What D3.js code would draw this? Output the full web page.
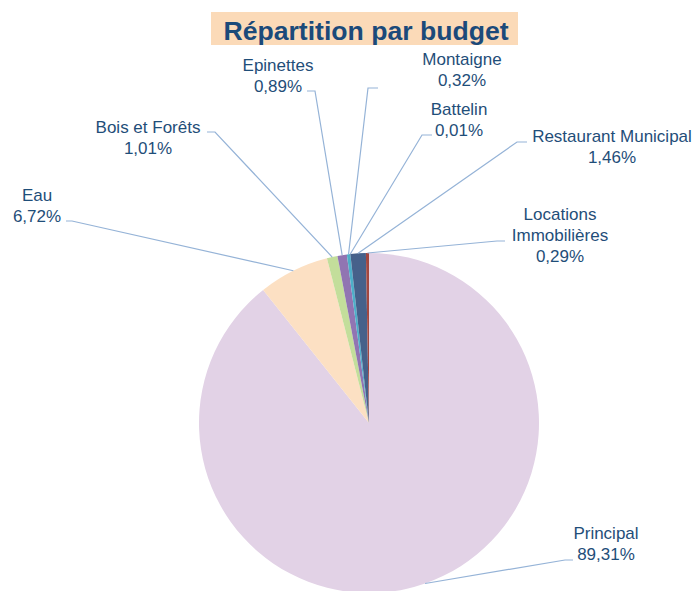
<!DOCTYPE html>
<html><head><meta charset="utf-8">
<script src="https://cdn.jsdelivr.net/npm/d3@7"></script>
<style>body{margin:0;background:#fff}svg{display:block}</style>
</head><body>
<script>
const categories = ["Principal","Eau","Bois et Forêts","Epinettes","Montaigne","Battelin","Restaurant Municipal","Locations Immobilières"];
const values = [89.31, 6.72, 1.01, 0.89, 0.32, 0.01, 1.46, 0.29];
const valueLabels = ["89,31%","6,72%","1,01%","0,89%","0,32%","0,01%","1,46%","0,29%"];
const colors = ["#E2D2E6","#FCE0C3","#C3DE9B","#9175B2","#4DAFC8","#2E75B6","#46618A","#A3473F"];
const title = "Répartition par budget";

// label layout: text lines, text centre x, first baseline y, stub start/end
const labelLayout = [
  {lines:["Principal"], tx:606, ty:539, s0:[573,560], s1:[565,560]},
  {lines:["Eau"], tx:37, ty:201, s0:[66,221], s1:[72,221]},
  {lines:["Bois et Forêts"], tx:148, ty:133, s0:[207,132], s1:[215,132]},
  {lines:["Epinettes"], tx:278, ty:71, s0:[307,91], s1:[315,91]},
  {lines:["Montaigne"], tx:462, ty:65, s0:[378,88], s1:[368,88]},
  {lines:["Battelin"], tx:459, ty:115, s0:[432,135], s1:[422,135]},
  {lines:["Restaurant Municipal"], tx:612, ty:142, s0:[527,142], s1:[517,142]},
  {lines:["Locations","Immobilières"], tx:560, ty:220, s0:[505,241], s1:[497,241]}
];

const W=698,H=591, cx=369, cy=423, R=170;
const svg=d3.select("body").append("svg").attr("width",W).attr("height",H);

// title
const tg=svg.append("g");
tg.append("rect").attr("x",211).attr("y",12).attr("width",307).attr("height",33).attr("fill","#FBDAB8");
tg.append("text").attr("x",366).attr("y",40).attr("text-anchor","middle")
  .attr("font-family","'Liberation Sans', Arial, sans-serif").attr("font-weight","bold")
  .attr("font-size",26.6).attr("fill","#1B4A7A").text(title);

const data = categories.map((c,i)=>({name:c,value:values[i],label:valueLabels[i],color:colors[i],layout:labelLayout[i]}));
const pie=d3.pie().value(d=>d.value).sort(null).startAngle(0).endAngle(2*Math.PI);
const arcs=pie(data);
const arc=d3.arc().innerRadius(0).outerRadius(R);
const g=svg.append("g").attr("transform",`translate(${cx},${cy})`);
g.selectAll("path").data(arcs).join("path").attr("d",arc).attr("fill",d=>d.data.color);

// leader lines
const lg=svg.append("g");
arcs.forEach(a=>{
  const mid=(a.startAngle+a.endAngle)/2;
  const px=cx+R*Math.sin(mid), py=cy-R*Math.cos(mid);
  const L=a.data.layout;
  lg.append("polyline").attr("points",[[px,py],L.s1,L.s0].map(p=>p.join(",")).join(" "))
    .attr("fill","none").attr("stroke","#95B3D7").attr("stroke-width",1.2);
});

// labels
const tgl=svg.append("g").attr("font-family","'Liberation Sans', Arial, sans-serif").attr("font-size",17).attr("fill","#1F4E79").attr("text-anchor","middle");
arcs.forEach(a=>{
  const L=a.data.layout;
  const lines=[...L.lines,a.data.label];
  const t=tgl.append("text").attr("x",L.tx).attr("y",L.ty);
  lines.forEach((s,i)=>t.append("tspan").attr("x",L.tx).attr("dy",i?21:0).text(s));
});
</script>
</body></html>
